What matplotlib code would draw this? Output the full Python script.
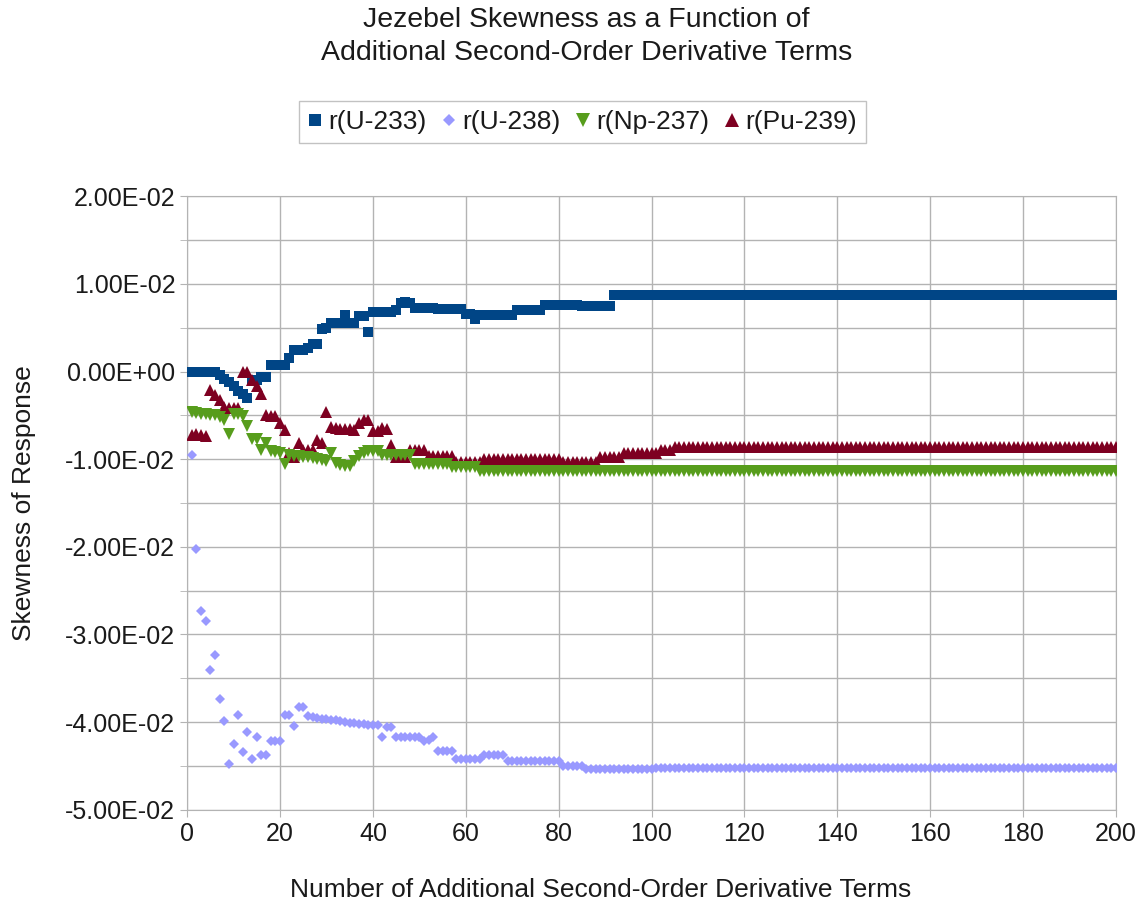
import matplotlib
matplotlib.use("Agg")
import matplotlib.pyplot as plt
from matplotlib.ticker import MultipleLocator, FuncFormatter

plt.rcParams['font.family'] = ['Liberation Sans', 'DejaVu Sans']

# ----------------- Data -----------------
# each series is a list of (number of consecutive points, value) runs

u233_runs = [
    (7, 0.0), (1, -0.0004), (1, -0.0008), (1, -0.0012), (1, -0.0017), (1, -0.0022),
    (1, -0.0026), (1, -0.0030), (2, -0.0010), (2, -0.0006), (4, 0.0008),
    (1, 0.0016), (3, 0.0025), (1, 0.0027), (2, 0.0032), (1, 0.0049), (1, 0.0050),
    (3, 0.0055), (1, 0.0065), (2, 0.0055), (1, 0.0063), (1, 0.0064), (1, 0.0045),
    (5, 0.0068), (1, 0.0070), (1, 0.0078), (1, 0.0079), (1, 0.0078), (5, 0.0073),
    (6, 0.0071), (2, 0.0066), (1, 0.0060), (8, 0.0065), (6, 0.0070), (8, 0.0076),
    (7, 0.0075), (109, 0.0087),
]

u238_runs = [
    (1, -0.0095), (1, -0.0202), (1, -0.0273), (1, -0.0285), (1, -0.0341), (1, -0.0323),
    (1, -0.0374), (1, -0.0399), (1, -0.0448), (1, -0.0425), (1, -0.0392), (1, -0.0434),
    (1, -0.0411), (1, -0.0442), (1, -0.0417), (2, -0.0438), (3, -0.0422), (2, -0.0392),
    (1, -0.0404), (2, -0.0383), (1, -0.0393), (1, -0.0394), (1, -0.0395), (1, -0.0396),
    (1, -0.0397), (2, -0.0398), (1, -0.0399), (1, -0.0400), (2, -0.0401), (2, -0.0402),
    (3, -0.0403), (1, -0.0417), (2, -0.0406), (6, -0.0417), (1, -0.0422), (1, -0.0420),
    (1, -0.0417), (4, -0.0433), (6, -0.0442), (5, -0.0438), (12, -0.0445), (5, -0.0450),
    (15, -0.0454), (100, -0.0452),
]

np237_runs = [
    (1, -0.0046), (1, -0.0047), (2, -0.0048), (1, -0.0049), (1, -0.0050), (1, -0.0052),
    (1, -0.0055), (1, -0.0071), (2, -0.0048), (1, -0.0051), (1, -0.0062), (2, -0.0077),
    (1, -0.0089), (1, -0.0081), (1, -0.0091), (1, -0.0092), (1, -0.0093), (1, -0.0105),
    (1, -0.0095), (2, -0.0096), (1, -0.0097), (1, -0.0098), (1, -0.0099), (1, -0.0100),
    (1, -0.0101), (1, -0.0102), (1, -0.0093), (1, -0.0104), (1, -0.0107), (2, -0.0108),
    (1, -0.0102), (1, -0.0096), (1, -0.0093), (3, -0.0091), (7, -0.0095), (8, -0.0105),
    (6, -0.0109), (138, -0.0113),
]

pu239_runs = [
    (1, -0.0072), (1, -0.0071), (1, -0.0072), (1, -0.0073), (1, -0.0021), (1, -0.0027),
    (1, -0.0032), (1, -0.0040), (3, -0.0041), (2, 0.0000), (1, -0.0010), (1, -0.0017),
    (1, -0.0026), (1, -0.0050), (2, -0.0051), (1, -0.0059), (1, -0.0067), (1, -0.0093),
    (1, -0.0097), (1, -0.0082), (3, -0.0089), (1, -0.0078), (1, -0.0082), (1, -0.0046),
    (1, -0.0063), (1, -0.0064), (2, -0.0065), (1, -0.0066), (1, -0.0067), (1, -0.0059),
    (2, -0.0055), (2, -0.0068), (1, -0.0064), (1, -0.0066), (1, -0.0084), (3, -0.0097),
    (4, -0.0090), (6, -0.0096), (6, -0.0103), (17, -0.0100), (8, -0.0103), (5, -0.0097),
    (8, -0.0093), (3, -0.0089), (96, -0.0086),
]

x_u233 = list(range(0, 201))
x_rest = list(range(1, 201))

x_ticks = list(range(0, 201, 20))


def expand(runs):
    out = []
    for n, v in runs:
        out.extend([v] * n)
    return out


def sci_label(v, pos):
    if abs(v) < 1e-12:
        v = 0.0
    return f"{v:.2E}"


u233 = expand(u233_runs)
u238 = expand(u238_runs)
np237 = expand(np237_runs)
pu239 = expand(pu239_runs)

# ----------------- Figure -----------------
fig = plt.figure(figsize=(11.41, 9.07), dpi=100)
ax = fig.add_axes([0.164, 0.1073, 0.814, 0.6762])

grid_c = '#b3b3b3'
txt_c = '#1a1a1a'

h1, = ax.plot(x_u233, u233, ls='none', marker='s', ms=7.6, mew=0, color='#004586', zorder=3)
h2, = ax.plot(x_rest, u238, ls='none', marker='D', ms=5.4, mew=0, color='#9999ff', zorder=4)
h4, = ax.plot(x_rest, pu239, ls='none', marker='^', ms=8.4, mew=0, color='#7e0021', zorder=5)
h3, = ax.plot(x_rest, np237, ls='none', marker='v', ms=8.4, mew=0, color='#579d1c', zorder=6)

ax.set_xlim(0, 200)
ax.set_ylim(-0.05, 0.02)
ax.set_xticks(x_ticks)
ax.yaxis.set_major_locator(MultipleLocator(0.01))
ax.yaxis.set_minor_locator(MultipleLocator(0.005))
ax.yaxis.set_major_formatter(FuncFormatter(sci_label))

ax.grid(True, which='major', color=grid_c, lw=1.0)
ax.grid(True, which='minor', axis='y', color=grid_c, lw=1.0)
ax.set_axisbelow(True)
for s in ax.spines.values():
    s.set_color(grid_c)
ax.tick_params(which='both', colors=grid_c, labelcolor=txt_c, labelsize=18, length=5)
ax.tick_params(axis='y', which='minor', length=5)
ax.tick_params(axis='x', pad=4)

ax.set_xlabel("Number of Additional Second-Order Derivative Terms", fontsize=19, color=txt_c)
ax.xaxis.set_label_coords(0.4456, -0.112)
ax.set_ylabel("Skewness of Response", fontsize=19, color=txt_c, labelpad=21)

fig.text(0.514, 0.9595, "Jezebel Skewness as a Function of\nAdditional Second-Order Derivative Terms",
         ha='center', va='center', fontsize=20.5, color=txt_c, linespacing=1.33)

leg = fig.legend([h1, h2, h3, h4], ["r(U-233)", "r(U-238)", "r(Np-237)", "r(Pu-239)"],
                 loc='center', bbox_to_anchor=(0.5105, 0.8655), ncol=4, fontsize=19,
                 frameon=True, fancybox=False, edgecolor=grid_c, borderpad=0.35,
                 handlelength=0.5, handletextpad=0.25, columnspacing=0.6, markerscale=1.15)
leg.get_frame().set_linewidth(1.0)
for t in leg.get_texts():
    t.set_color(txt_c)

fig.savefig("out.png", dpi=100)
